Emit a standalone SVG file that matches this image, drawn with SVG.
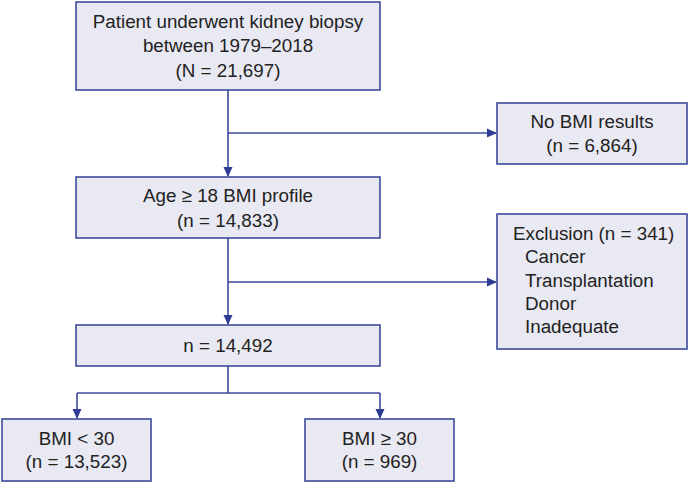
<svg xmlns="http://www.w3.org/2000/svg" width="689" height="483" viewBox="0 0 689 483">
<style>
.box{fill:#e9e9f3;stroke:#3d4a9c;stroke-width:1.6}
.t{font-family:"Liberation Sans",Arial,sans-serif;font-size:18.8px;fill:#222}
.c{text-anchor:middle}
.ln{fill:none;stroke:#3d4a9c;stroke-width:1.6}
</style>
<defs>
<marker id="ah" markerWidth="10" markerHeight="10" refX="9" refY="5" orient="auto" markerUnits="userSpaceOnUse">
<path d="M0,0.5 L10,5 L0,9.5 Z" fill="#2f3c96"/>
</marker>
</defs>
<rect width="689" height="483" fill="#fff"/>
<g id="connectors">
<path class="ln" d="M228,90 V176" marker-end="url(#ah)"/>
<path class="ln" d="M228,133 H496" marker-end="url(#ah)"/>
<path class="ln" d="M228,238 V324" marker-end="url(#ah)"/>
<path class="ln" d="M228,282 H496" marker-end="url(#ah)"/>
<path class="ln" d="M228,366 V393"/>
<path class="ln" d="M77,393 H380"/>
<path class="ln" d="M77,393 V418" marker-end="url(#ah)"/>
<path class="ln" d="M380,393 V418" marker-end="url(#ah)"/>
</g>
<g id="n1">
<rect class="box" x="76" y="2" width="304" height="88"/>
<text class="t c" x="228" y="28">Patient underwent kidney biopsy</text>
<text class="t c" x="228" y="52">between 1979–2018</text>
<text class="t c" x="228" y="77">(N = 21,697)</text>
</g>
<g id="n2">
<rect class="box" x="497" y="103" width="190" height="61"/>
<text class="t c" x="592" y="128">No BMI results</text>
<text class="t c" x="592" y="152">(n = 6,864)</text>
</g>
<g id="n3">
<rect class="box" x="76" y="177" width="304" height="61"/>
<text class="t c" x="228" y="202">Age ≥ 18 BMI profile</text>
<text class="t c" x="228" y="227">(n = 14,833)</text>
</g>
<g id="n4">
<rect class="box" x="497" y="214" width="190" height="135"/>
<text class="t" x="513" y="240">Exclusion (n = 341)</text>
<text class="t" x="525" y="263">Cancer</text>
<text class="t" x="525" y="287">Transplantation</text>
<text class="t" x="525" y="310">Donor</text>
<text class="t" x="525" y="333">Inadequate</text>
</g>
<g id="n5">
<rect class="box" x="76" y="325" width="304" height="41"/>
<text class="t c" x="228" y="352">n = 14,492</text>
</g>
<g id="n6">
<rect class="box" x="2" y="419" width="149" height="62"/>
<text class="t c" x="76.5" y="445">BMI &lt; 30</text>
<text class="t c" x="76.5" y="468">(n = 13,523)</text>
</g>
<g id="n7">
<rect class="box" x="305" y="419" width="149" height="62"/>
<text class="t c" x="379.5" y="445">BMI ≥ 30</text>
<text class="t c" x="379.5" y="468">(n = 969)</text>
</g>
</svg>
